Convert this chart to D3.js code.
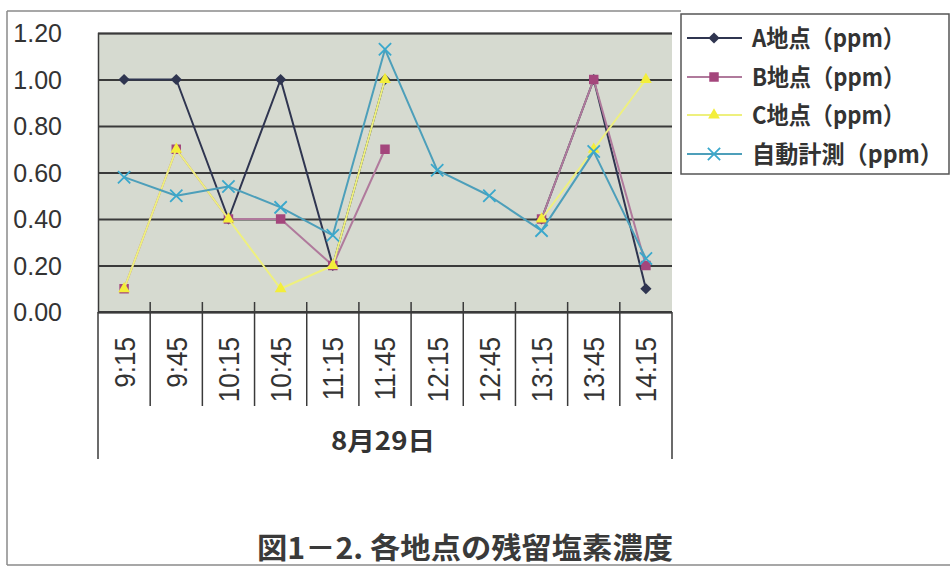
<!DOCTYPE html>
<html lang="ja">
<head>
<meta charset="utf-8">
<script src="https://cdn.jsdelivr.net/npm/d3@7"></script>
<style>
  html, body { margin: 0; padding: 0; background: #ffffff; }
  svg { display: block; }
</style>
</head>
<body>
<svg id="chart" width="951" height="567"></svg>
<script>
// Sampling times on 8/29
const times = ["9:15", "9:45", "10:15", "10:45", "11:15", "11:45",
               "12:15", "12:45", "13:15", "13:45", "14:15"];

// Residual chlorine (ppm) per sampling point; null = not measured
const siteA = [1.00, 1.00, 0.40, 1.00, 0.20, 1.00, null, null, 0.40, 1.00, 0.10];
const siteB = [0.10, 0.70, 0.40, 0.40, 0.20, 0.70, null, null, 0.40, 1.00, 0.20];
const siteC = [0.10, 0.70, 0.40, 0.10, 0.20, 1.00, null, null, 0.40, 0.70, 1.00];
const autoMeasured = [0.58, 0.50, 0.54, 0.45, 0.33, 1.13, 0.61, 0.50, 0.35, 0.69, 0.23];

const seriesNames = ["A地点（ppm）", "B地点（ppm）", "C地点（ppm）", "自動計測（ppm）"];
const yTicks = [0, 0.2, 0.4, 0.6, 0.8, 1.0, 1.2];
const dateLabel = "8月29日";
const titleText = "図1－2. 各地点の残留塩素濃度";

const series = [
  { name: seriesNames[0], values: siteA,        line: "#2f3550", mark: "#2f3550", shape: "diamond" },
  { name: seriesNames[1], values: siteB,        line: "#b07a9c", mark: "#a4467c", shape: "square" },
  { name: seriesNames[2], values: siteC,        line: "#eef07e", mark: "#f3ee3a", shape: "triangle" },
  { name: seriesNames[3], values: autoMeasured, line: "#4d9fba", mark: "#3aa8cc", shape: "times" }
];

const svg = d3.select("#chart");
const W = 951, H = 567;
const plot = { left: 98, right: 672, top: 33, bottom: 312 };

const x = d3.scaleBand().domain(times).range([plot.left, plot.right]).padding(0);
const y = d3.scaleLinear().domain([0, 1.2]).range([plot.bottom, plot.top]);
const cx = t => x(t) + x.bandwidth() / 2;

const latin = "'Liberation Sans', Arial, sans-serif";
const cjk = "'Noto Sans CJK JP', 'Noto Sans CJK SC', sans-serif";

// page background and chart frame
svg.append("rect").attr("width", W).attr("height", H).attr("fill", "#ffffff");
const frame = svg.append("g").attr("stroke", "#8a8a8a").attr("stroke-width", 1.5);
frame.append("line").attr("x1", 7).attr("y1", 11).attr("x2", 7).attr("y2", 565);
frame.append("line").attr("x1", 7).attr("y1", 11).attr("x2", 681).attr("y2", 11);
frame.append("line").attr("x1", 7).attr("y1", 565).attr("x2", 950).attr("y2", 565);

// plot area
svg.append("rect")
  .attr("x", plot.left).attr("y", plot.top)
  .attr("width", plot.right - plot.left).attr("height", plot.bottom - plot.top)
  .attr("fill", "#d6dad0");

// horizontal gridlines + value labels
const yAxis = svg.append("g")
  .attr("transform", `translate(${plot.left},0)`)
  .call(d3.axisLeft(y).tickValues(yTicks).tickFormat(d3.format(".2f"))
        .tickSize(-(plot.right - plot.left)).tickPadding(0));
yAxis.select(".domain").attr("stroke", "#3a3a3a").attr("stroke-width", 1.5);
yAxis.selectAll(".tick line").attr("stroke", "#3a3a3a").attr("stroke-width", 1.8);
yAxis.selectAll(".tick text")
  .attr("x", 62 - plot.left)
  .attr("dy", "0.35em")
  .attr("text-anchor", "end")
  .attr("font-family", latin)
  .attr("font-size", 25)
  .attr("fill", "#333333");

// category axis: baseline, boundary ticks and rotated time labels
const xAxis = svg.append("g");
xAxis.append("line")
  .attr("x1", plot.left).attr("x2", plot.right)
  .attr("y1", plot.bottom).attr("y2", plot.bottom)
  .attr("stroke", "#3a3a3a").attr("stroke-width", 1.8);

const inner = times.slice(1);
xAxis.selectAll("line.sep").data(inner).join("line")
  .attr("class", "sep")
  .attr("x1", d => x(d)).attr("x2", d => x(d))
  .attr("y1", plot.bottom - 10).attr("y2", 406)
  .attr("stroke", "#3a3a3a").attr("stroke-width", 1.5);

const outerEdges = [x.range()[0], x.range()[1]];
xAxis.selectAll("line.edge").data(outerEdges).join("line")
  .attr("class", "edge")
  .attr("x1", d => d).attr("x2", d => d)
  .attr("y1", plot.bottom).attr("y2", 459)
  .attr("stroke", "#3a3a3a").attr("stroke-width", 1.5);

xAxis.selectAll("text.time").data(times).join("text")
  .attr("class", "time")
  .attr("transform", d => `translate(${cx(d)},337) rotate(-90) scale(0.9,1)`)
  .attr("text-anchor", "end")
  .attr("dy", "0.36em")
  .attr("font-family", latin)
  .attr("font-size", 29)
  .attr("fill", "#333333")
  .text(d => d);

svg.append("text")
  .attr("x", (plot.left + plot.right) / 2 - 2).attr("y", 441)
  .attr("dy", "0.36em")
  .attr("text-anchor", "middle")
  .attr("font-family", cjk)
  .attr("font-weight", 700)
  .attr("font-size", 25)
  .attr("fill", "#333333")
  .attr("textLength", 104).attr("lengthAdjust", "spacingAndGlyphs")
  .text(dateLabel);

// marker shapes
function markerPath(shape) {
  const sym = d3.symbol();
  if (shape === "diamond") return sym.type(d3.symbolDiamond2 || d3.symbolSquare).size(80)();
  if (shape === "square") return sym.type(d3.symbolSquare).size(90)();
  if (shape === "triangle") return sym.type(d3.symbolTriangle).size(60)();
  return sym.type(d3.symbolTimes || d3.symbolX).size(100)();
}

const line = d3.line()
  .defined(d => d.v != null)
  .x(d => cx(d.t))
  .y(d => y(d.v));

series.forEach(s => {
  const pts = times.map((t, i) => ({ t, v: s.values[i] }));
  const g = svg.append("g");
  g.append("path")
    .datum(pts)
    .attr("d", line)
    .attr("fill", "none")
    .attr("stroke", s.line)
    .attr("stroke-width", 2)
    .attr("stroke-linejoin", "round");
  const marks = g.selectAll("path.mark").data(pts.filter(p => p.v != null)).join("path")
    .attr("class", "mark")
    .attr("transform", p => `translate(${cx(p.t)},${y(p.v)})`)
    .attr("d", markerPath(s.shape));
  if (s.shape === "times") {
    marks.attr("fill", "none").attr("stroke", s.mark).attr("stroke-width", 1.8);
  } else {
    marks.attr("fill", s.mark).attr("stroke", "none");
  }
});

// legend
const legend = svg.append("g");
legend.append("rect")
  .attr("x", 681).attr("y", 14).attr("width", 268).attr("height", 160)
  .attr("fill", "#ffffff").attr("stroke", "#555555").attr("stroke-width", 1.5);

const legendRows = [38, 77, 115, 154];
const legendWidths = [153, 153, 153, 191];
series.forEach((s, i) => {
  const ry = legendRows[i];
  legend.append("line")
    .attr("x1", 687).attr("x2", 742).attr("y1", ry).attr("y2", ry)
    .attr("stroke", s.line).attr("stroke-width", 2);
  const m = legend.append("path")
    .attr("transform", `translate(714,${ry})`)
    .attr("d", markerPath(s.shape));
  if (s.shape === "times") m.attr("fill", "none").attr("stroke", s.mark).attr("stroke-width", 1.8);
  else m.attr("fill", s.mark);
  legend.append("text")
    .attr("x", 752).attr("y", ry)
    .attr("dy", "0.36em")
    .attr("font-family", cjk)
    .attr("font-weight", 700)
    .attr("font-size", 24)
    .attr("fill", "#333333")
    .attr("textLength", legendWidths[i]).attr("lengthAdjust", "spacingAndGlyphs")
    .text(s.name);
});

// caption
svg.append("text")
  .attr("x", 465).attr("y", 549)
  .attr("dy", "0.36em")
  .attr("text-anchor", "middle")
  .attr("font-family", cjk)
  .attr("font-weight", 700)
  .attr("font-size", 29)
  .attr("fill", "#3a3a3a")
  .attr("textLength", 416).attr("lengthAdjust", "spacingAndGlyphs")
  .text(titleText);
</script>
</body>
</html>
